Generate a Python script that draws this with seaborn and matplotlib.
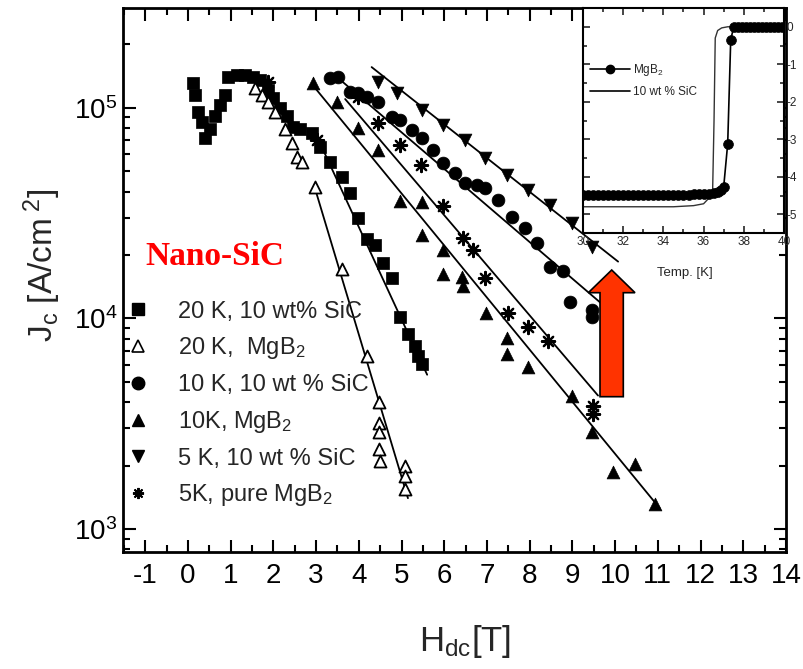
import numpy as np
import pandas as pd
import seaborn as sns
import matplotlib
matplotlib.use("Agg")
import matplotlib.pyplot as plt
from matplotlib.lines import Line2D
from matplotlib.patches import Polygon
from matplotlib.ticker import MultipleLocator, LogLocator, NullFormatter

# ---------------- data ----------------
# 20 K, 10 wt% SiC (filled squares)
sq20_x = [0.12, 0.16, 0.23, 0.33, 0.40, 0.52, 0.63, 0.75, 0.87, 0.94, 1.15, 1.33, 1.52, 1.69, 1.87,
          2.00, 2.15, 2.32, 2.46, 2.62, 2.90, 3.09, 3.33, 3.61, 3.79, 3.98, 4.19, 4.38, 4.57, 4.78,
          4.96, 5.15, 5.32, 5.39, 5.48]
sq20_y = [1.31e5, 1.15e5, 9.5e4, 8.6e4, 7.2e4, 7.9e4, 9.1e4, 1.03e5, 1.15e5, 1.40e5, 1.43e5, 1.43e5,
          1.40e5, 1.36e5, 1.22e5, 1.11e5, 1.0e5, 9.1e4, 8.1e4, 7.9e4, 7.6e4, 6.5e4, 5.5e4, 4.7e4,
          3.95e4, 3.0e4, 2.37e4, 2.24e4, 1.84e4, 1.56e4, 1.01e4, 8.4e3, 7.4e3, 6.6e3, 6.05e3]
# 20 K, MgB2 (open triangles)
tr20_x = [1.57, 1.73, 1.87, 2.04, 2.27, 2.44, 2.55, 2.67, 2.97, 3.61, 4.19, 4.47, 4.47, 4.47, 4.47,
          4.50, 5.08, 5.08, 5.08]
tr20_y = [1.24e5, 1.15e5, 1.06e5, 9.5e4, 7.9e4, 6.8e4, 5.86e4, 5.5e4, 4.22e4, 1.71e4, 6.6e3, 4.0e3,
          3.2e3, 2.9e3, 2.4e3, 2.1e3, 2.0e3, 1.78e3, 1.55e3]
# 10 K, 10 wt % SiC (filled circles)
ci10_x = [3.33, 3.51, 3.79, 3.98, 4.19, 4.45, 4.78, 4.96, 5.25, 5.48, 5.74, 5.97, 6.25, 6.49, 6.77,
          6.96, 7.26, 7.59, 7.89, 8.17, 8.48, 8.78, 8.95, 9.46, 9.46]
ci10_y = [1.39e5, 1.40e5, 1.19e5, 1.18e5, 1.13e5, 1.06e5, 9.07e4, 8.77e4, 7.87e4, 7.2e4, 6.32e4,
          5.48e4, 4.92e4, 4.41e4, 4.32e4, 4.18e4, 3.66e4, 3.04e4, 2.7e4, 2.29e4, 1.76e4, 1.67e4,
          1.19e4, 1.1e4, 1.01e4]
# 10K, MgB2 (filled triangles)
tr10_x = [2.93, 3.49, 3.98, 4.45, 4.96, 5.48, 5.48, 5.97, 5.97, 6.42, 6.44, 6.98, 7.47, 7.47, 7.96,
          8.99, 9.46, 9.95, 10.47, 10.94]
tr10_y = [1.31e5, 1.06e5, 8.04e4, 6.32e4, 3.59e4, 3.55e4, 2.5e4, 2.12e4, 1.62e4, 1.58e4, 1.42e4,
          1.06e4, 8.1e3, 6.75e3, 5.86e3, 4.27e3, 2.88e3, 1.86e3, 2.03e3, 1.31e3]
# 5 K, 10 wt % SiC (down triangles)
dn5_x = [4.45, 4.89, 5.48, 5.97, 6.49, 6.96, 7.47, 7.96, 8.48, 8.99, 9.46]
dn5_y = [1.33e5, 1.18e5, 9.8e4, 8.3e4, 7.05e4, 5.8e4, 4.81e4, 4.08e4, 3.47e4, 2.85e4, 2.19e4]
# 5K, pure MgB2 (asterisks)
as5_x = [1.87, 3.02, 3.98, 4.45, 4.96, 5.46, 5.97, 6.44, 6.67, 6.96, 7.49, 7.96, 8.43, 9.48, 9.48]
as5_y = [1.33e5, 7.05e4, 1.12e5, 8.5e4, 6.68e4, 5.37e4, 3.4e4, 2.42e4, 2.12e4, 1.55e4, 1.06e4,
         9.1e3, 7.8e3, 3.83e3, 3.5e3]

# straight fit lines (end points)
fit20s_x, fit20s_y = [3.0, 5.6], [7.45e4, 5.4e3]
fit20m_x, fit20m_y = [2.95, 5.15], [4.3e4, 1.4e3]
fit10s_x, fit10s_y = [3.4, 9.65], [1.45e5, 1.19e4]
fit10m_x, fit10m_y = [2.95, 11.05], [1.26e5, 1.25e3]
fit5s_x, fit5s_y = [4.3, 10.07], [1.56e5, 1.86e4]
fit5m_x, fit5m_y = [3.68, 9.6], [1.1e5, 4.3e3]

legend_labels = ["20 K, 10 wt% SiC", "20 K,  MgB$_2$", "10 K, 10 wt % SiC",
                 "10K, MgB$_2$", "5 K, 10 wt % SiC", "5K, pure MgB$_2$"]

# inset: normalised magnetisation vs temperature
mg_T = [30.0, 30.25, 30.5, 30.75, 31.0, 31.25, 31.5, 31.75, 32.0, 32.25, 32.5, 32.75, 33.0, 33.25,
        33.5, 33.75, 34.0, 34.25, 34.5, 34.75, 35.0, 35.25, 35.5, 35.75, 36.0, 36.25, 36.5, 36.7,
        36.85, 37.0, 37.2, 37.35, 37.5, 37.7, 37.9, 38.1, 38.3, 38.5, 38.7, 38.9, 39.1, 39.3, 39.5,
        39.7, 39.9]
mg_M = [-4.48, -4.48, -4.48, -4.48, -4.48, -4.48, -4.48, -4.48, -4.48, -4.48, -4.48, -4.48, -4.48,
        -4.48, -4.48, -4.48, -4.48, -4.48, -4.48, -4.48, -4.48, -4.48, -4.47, -4.47, -4.46, -4.45,
        -4.43, -4.4, -4.35, -4.27, -3.12, -0.35, 0.0, 0.0, 0.0, 0.0, 0.0, 0.0, 0.0, 0.0, 0.0, 0.0,
        0.0, 0.0, 0.0]
sic_T = [30.0, 34.5, 35.5, 36.0, 36.3, 36.45, 36.52, 36.58, 36.7, 36.9, 37.2, 40.0]
sic_M = [-4.8, -4.8, -4.77, -4.72, -4.55, -4.38, -2.5, -0.3, -0.1, -0.03, 0.0, 0.0]

# ---------------- style ----------------
sns.set_style("ticks")
plt.rcParams["font.family"] = ["Liberation Sans", "DejaVu Sans"]
plt.rcParams["mathtext.fontset"] = "custom"
plt.rcParams["mathtext.rm"] = "Liberation Sans"
plt.rcParams["mathtext.it"] = "Liberation Sans:italic"
plt.rcParams["mathtext.bf"] = "Liberation Sans:bold"
plt.rcParams["axes.unicode_minus"] = False

fig = plt.figure(figsize=(8.04, 6.69), dpi=100)
ax = fig.add_axes([0.153, 0.175, 0.8246, 0.8132])

S = 75
sns.scatterplot(x=sq20_x, y=sq20_y, marker="s", s=S, color="black", edgecolor="black",
                linewidth=0.5, ax=ax, zorder=3, legend=False)
sns.scatterplot(x=tr20_x, y=tr20_y, marker="^", s=S, color="white", edgecolor="black",
                linewidth=1.3, ax=ax, zorder=3, legend=False)
sns.scatterplot(x=ci10_x, y=ci10_y, marker="o", s=S + 10, color="black", edgecolor="black",
                linewidth=0.5, ax=ax, zorder=3, legend=False)
sns.scatterplot(x=tr10_x, y=tr10_y, marker="^", s=S + 10, color="black", edgecolor="black",
                linewidth=0.5, ax=ax, zorder=3, legend=False)
sns.scatterplot(x=dn5_x, y=dn5_y, marker="v", s=S + 10, color="black", edgecolor="black",
                linewidth=0.5, ax=ax, zorder=3, legend=False)
sns.scatterplot(x=as5_x, y=as5_y, marker=(8, 2, 0), s=S + 15, color="black",
                linewidth=1.6, ax=ax, zorder=3, legend=False)

for fx, fy in [(fit20s_x, fit20s_y), (fit20m_x, fit20m_y), (fit10s_x, fit10s_y),
               (fit10m_x, fit10m_y), (fit5s_x, fit5s_y), (fit5m_x, fit5m_y)]:
    sns.lineplot(x=fx, y=fy, color="black", linewidth=1.3, ax=ax, estimator=None,
                 sort=False, legend=False, zorder=2)

ax.set_yscale("log")
ax.set_xlim(-1.52, 14.0)
ax.set_ylim(778, 2.98e5)
ax.xaxis.set_major_locator(MultipleLocator(1))
ax.xaxis.set_minor_locator(MultipleLocator(0.5))
ax.yaxis.set_major_locator(LogLocator(base=10, numticks=10))
ax.yaxis.set_minor_locator(LogLocator(base=10, subs=np.arange(2, 10), numticks=20))
ax.yaxis.set_minor_formatter(NullFormatter())
ax.tick_params(which="both", direction="in", top=True, right=True, width=1.5, colors="black")
ax.tick_params(which="major", length=9, labelsize=20)
ax.tick_params(which="minor", length=5)
ax.tick_params(axis="x", which="major", pad=8)
ax.tick_params(axis="y", which="major", pad=4)
for sp in ax.spines.values():
    sp.set_linewidth(2)
    sp.set_color("black")

ax.set_ylabel(r"J$_\mathrm{c}$ [A/cm$^\mathrm{\ 2}$]", fontsize=24, va="center")
ax.yaxis.set_label_coords(-0.122, 0.528)
ax.set_xlabel(r"H$_\mathrm{dc}$[T]", fontsize=25, va="center")
ax.xaxis.set_label_coords(0.516, -0.165)

handles = [
    Line2D([], [], ls="none", marker="s", ms=8, mfc="black", mec="black"),
    Line2D([], [], ls="none", marker="^", ms=8, mfc="white", mec="black", mew=1.2),
    Line2D([], [], ls="none", marker="o", ms=9, mfc="black", mec="black"),
    Line2D([], [], ls="none", marker="^", ms=9, mfc="black", mec="black"),
    Line2D([], [], ls="none", marker="v", ms=9, mfc="black", mec="black"),
    Line2D([], [], ls="none", marker=(8, 2, 0), ms=8, color="black", mew=1.4),
]
ax.legend(handles, legend_labels, loc="upper left", bbox_to_anchor=(0.0045, 0.462),
          frameon=False, fontsize=17, handlelength=1.0, handletextpad=1.2,
          labelspacing=0.54, borderpad=0, borderaxespad=0)

fig.text(145 / 804, 1 - 256 / 669, "Nano-SiC", color="#FF0000", fontsize=24,
         fontweight="bold", family=["Liberation Serif", "DejaVu Serif"], va="center", ha="left")

# red arrow (figure pixel layout)
arrow_px = [(611.7, 270), (635, 292.7), (623.3, 292.7), (623.3, 396.7), (600, 396.7),
            (600, 292.7), (588.3, 292.7)]
arrow = Polygon([(px / 804, 1 - py / 669) for px, py in arrow_px], closed=True,
                transform=fig.transFigure, facecolor="#FF3300", edgecolor="black", lw=1.2, zorder=10)
fig.patches.append(arrow)

# ---------------- inset ----------------
axi = fig.add_axes([0.7251, 0.6517, 0.25, 0.3363])
axi.set_facecolor("white")
axi.set_zorder(5)
sns.lineplot(x=sic_T, y=sic_M, color="#333333", linewidth=1.0, ax=axi, estimator=None,
             sort=False, legend=False)
sns.lineplot(x=mg_T, y=mg_M, color="black", linewidth=1.2, ax=axi, estimator=None,
             sort=False, legend=False)
sns.scatterplot(x=mg_T, y=mg_M, marker="o", s=50, color="black", edgecolor="black",
                linewidth=0.5, ax=axi, zorder=3, legend=False)
axi.set_xlim(30, 40)
axi.set_ylim(-5.5, 0.5)
axi.xaxis.set_major_locator(MultipleLocator(2))
axi.xaxis.set_minor_locator(MultipleLocator(1))
axi.yaxis.set_major_locator(MultipleLocator(1))
axi.yaxis.set_minor_locator(MultipleLocator(0.5))
axi.tick_params(which="both", direction="in", top=True, right=True, left=True,
                labelleft=False, labelright=True, width=1.2, labelsize=8.5, pad=2)
axi.tick_params(which="major", length=5)
axi.tick_params(which="minor", length=3)
for sp in axi.spines.values():
    sp.set_linewidth(1.5)
    sp.set_color("black")
axi.set_xlabel("Temp. [K]", fontsize=9.5, va="center")
axi.xaxis.set_label_coords(0.507, -0.178)
axi.set_ylabel("")
ih = [Line2D([], [], color="black", lw=1.2, marker="o", ms=6),
      Line2D([], [], color="black", lw=1.2)]
axi.legend(ih, ["MgB$_2$", "10 wt % SiC"], loc="upper left", bbox_to_anchor=(0.035, 0.76),
           frameon=False, fontsize=8.5, handlelength=3.4, handletextpad=0.2,
           labelspacing=0.7, borderpad=0, borderaxespad=0)

fig.savefig("out.png", dpi=100)
